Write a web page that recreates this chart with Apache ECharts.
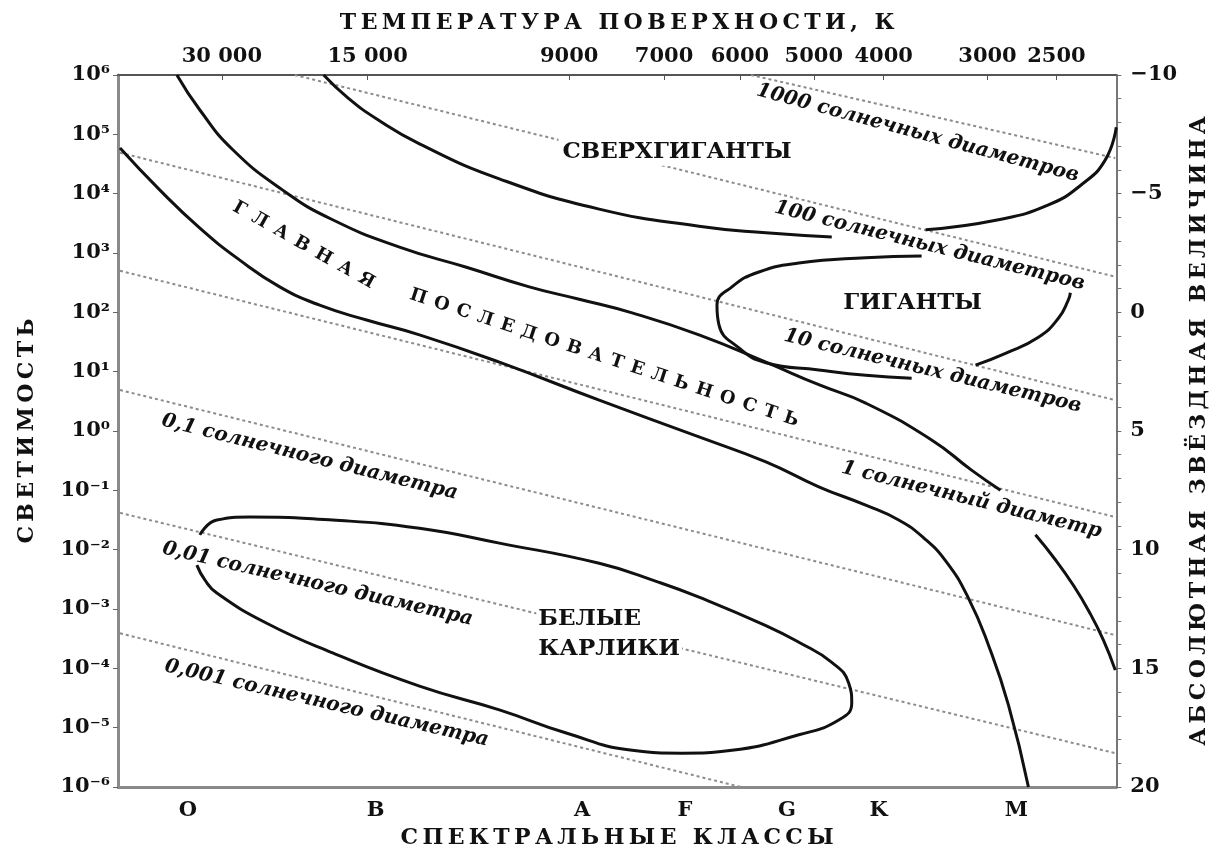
<!DOCTYPE html>
<html>
<head>
<meta charset="utf-8">
<script src="https://cdn.jsdelivr.net/npm/echarts@6/dist/echarts.min.js"></script>
<style>
  html, body { margin: 0; background: #fff; }
  #chart { width: 1218px; height: 855px; }
</style>
</head>
<body>
<div id="chart"></div>
<script>
// horizontal scale: 0..1000 across the plot; vertical: lg(L / L_sun)
const spectralPos = [70, 258, 465, 568, 670, 762, 900];
const spectralClasses = ['O', 'B', 'A', 'F', 'G', 'K', 'M'];
const tempPos = [104, 250, 452, 547, 623, 697, 767, 871, 940];
const tempLabels = ['30 000', '15 000', '9000', '7000', '6000', '5000', '4000', '3000', '2500'];

// главная последовательность — верхняя и нижняя границы
const msUpper = [[59, 6.0], [82, 5.41], [115, 4.74], [165, 4.06], [215, 3.56], [282, 3.10], [349, 2.76],
  [412, 2.43], [462, 2.22], [515, 1.99], [582, 1.62], [649, 1.16], [702, 0.78], [749, 0.47],
  [815, -0.15], [855, -0.66], [884, -1.00]];
const msLower = [[2, 4.77], [42, 4.06], [82, 3.42], [122, 2.88], [162, 2.43], [202, 2.12], [249, 1.87],
  [302, 1.62], [382, 1.16], [482, 0.52], [582, -0.10], [649, -0.52], [702, -0.94], [749, -1.25],
  [782, -1.50], [807, -1.80], [830, -2.21], [852, -2.82], [872, -3.61], [892, -4.62], [912, -6.0]];
const dwarfTail = [[919, -1.75], [939, -2.17], [957, -2.60], [972, -3.02], [987, -3.52], [999, -4.03]];

// сверхгиганты
const superLeft = [[206, 6.0], [230, 5.62], [260, 5.25], [302, 4.84], [382, 4.25], [482, 3.74],
  [582, 3.45], [649, 3.34], [715, 3.27]];
const superRight = [[809, 3.39], [882, 3.56], [932, 3.81], [965, 4.15], [989, 4.57], [1000, 5.12]];

// гиганты
const giantsLoop = [[805, 2.95], [749, 2.92], [682, 2.83], [642, 2.68], [615, 2.43], [600, 2.12],
  [602, 1.79], [622, 1.40], [649, 1.15], [702, 1.03], [749, 0.94], [795, 0.89]];
const giantsArc = [[859, 1.11], [889, 1.31], [922, 1.58], [942, 1.90], [952, 2.21], [954, 2.33]];

// белые карлики
const whiteDwarfs = [[82, -1.75], [99, -1.50], [132, -1.45], [215, -1.50], [302, -1.64], [382, -1.89],
  [482, -2.23], [542, -2.55], [582, -2.80], [649, -3.28], [682, -3.56], [715, -3.90], [732, -4.25],
  [735, -4.59], [722, -4.87], [682, -5.12], [615, -5.38], [565, -5.43], [515, -5.38], [449, -5.09],
  [382, -4.70], [302, -4.30], [215, -3.74], [149, -3.24], [99, -2.73], [87, -2.51], [79, -2.26]];

// линии постоянного радиуса
const r1000 = [[634, 6.0], [999, 4.60]];
const r100 = [[177, 6.0], [999, 2.60]];
const r10 = [[2, 4.69], [999, 0.52]];
const r1 = [[2, 2.70], [999, -1.45]];
const r01 = [[2, 0.69], [999, -3.44]];
const r001 = [[2, -1.38], [999, -5.43]];
const r0001 = [[2, -3.41], [624, -6.0]];

const serif = 'DejaVu Serif';
const ink = '#111';
const spaced = (s, sep) => Array.from(s).join(sep);
const supMap = {'-': '⁻', '0': '⁰', '1': '¹', '2': '²', '3': '³', '4': '⁴', '5': '⁵', '6': '⁶', '7': '⁷', '8': '⁸', '9': '⁹'};
const sup = n => String(n).split('').map(c => supMap[c]).join('');
const pick = (pos, labels) => v => {
  const i = pos.findIndex(p => Math.abs(p - v) < 0.5);
  return i < 0 ? '' : labels[i];
};

const curve = pts => ({
  type: 'line', data: pts, smooth: 0.5, symbol: 'none', silent: true, z: 3,
  lineStyle: { color: '#111', width: 3 }
});
const radius = pts => ({
  type: 'line', data: pts, symbol: 'none', silent: true, z: 2,
  lineStyle: { color: '#8c8c8c', width: 2, type: [3, 3] }
});

// подписи
const base = { fontFamily: serif, fontWeight: 'bold', color: ink, opacity: 1, textBorderWidth: 0, textBorderColor: 'transparent' };
const italicNote = Object.assign({ fontStyle: 'italic', fontSize: 20 }, base);
const bigNote = Object.assign({ fontSize: 23 }, base);
const seqNote = Object.assign({ fontSize: 18 }, base);
const notes = [
  { text: '1000 солнечных диаметров', at: [801, 5.02], rotate: -15, style: italicNote },
  { text: '100 солнечных диаметров', at: [813, 3.12], rotate: -14, style: italicNote },
  { text: '10 солнечных диаметров', at: [816, 1.01], rotate: -13.5, style: italicNote },
  { text: '1 солнечный диаметр', at: [855, -1.16], rotate: -14, style: italicNote },
  { text: '0,1 солнечного диаметра', at: [192, -0.44], rotate: -14, style: italicNote },
  { text: '0,01 солнечного диаметра', at: [200, -2.58], rotate: -13, style: italicNote },
  { text: '0,001 солнечного диаметра', at: [209, -4.59], rotate: -13, style: italicNote },
  { text: 'СВЕРХГИГАНТЫ', at: [560, 4.70], rotate: 0, style: Object.assign({ backgroundColor: '#fff', padding: [2, 4] }, bigNote) },
  { text: 'ГИГАНТЫ', at: [796, 2.16], rotate: 0, style: bigNote },
  { text: 'БЕЛЫЕ\nКАРЛИКИ', at: [419, -3.42], rotate: 0, position: 'right',
    style: Object.assign({ backgroundColor: '#fff', lineHeight: 30, align: 'left', padding: [0, 2] }, bigNote) },
  { text: spaced('ГЛАВНАЯ', '\u2002'), at: [186, 3.13], rotate: -29.5, style: seqNote },
  { text: spaced('ПОСЛЕДОВАТЕЛЬНОСТЬ', ' \u200A'), at: [487, 1.23], rotate: -18.2, style: seqNote }
];

const titleStyle = { fontFamily: serif, fontWeight: 'bold', fontSize: 22, color: ink };
const tickStyle = { fontFamily: serif, fontWeight: 'bold', fontSize: 21, color: ink };

const chart = echarts.init(document.getElementById('chart'));
chart.setOption({
  animation: false,
  backgroundColor: '#fff',
  grid: { left: 118, right: 101, top: 75, bottom: 68 },
  xAxis: [{
    type: 'value', position: 'bottom', min: 0, max: 1000,
    axisLine: { show: true, onZero: false, lineStyle: { color: '#8a8a8a', width: 3 } },
    axisTick: { show: false },
    splitLine: { show: false },
    axisLabel: Object.assign({ customValues: spectralPos, formatter: pick(spectralPos, spectralClasses), margin: 13 }, tickStyle),
    name: spaced('СПЕКТРАЛЬНЫЕ КЛАССЫ', '\u2009'),
    nameLocation: 'middle', nameGap: 40, nameTextStyle: titleStyle
  }, {
    type: 'value', position: 'top', min: 0, max: 1000,
    axisLine: { show: true, onZero: false, lineStyle: { color: '#555', width: 2 } },
    axisTick: { show: true, customValues: tempPos, inside: true, length: 5, lineStyle: { color: '#555' } },
    splitLine: { show: false },
    axisLabel: Object.assign({ customValues: tempPos, formatter: pick(tempPos, tempLabels), margin: 8 }, tickStyle),
    name: spaced('ТЕМПЕРАТУРА ПОВЕРХНОСТИ, К', '\u2009'),
    nameLocation: 'middle', nameGap: 41, nameTextStyle: titleStyle
  }],
  yAxis: [{
    type: 'value', position: 'left', min: -6, max: 6, interval: 1,
    axisLine: { show: true, onZero: false, lineStyle: { color: '#8a8a8a', width: 3 } },
    axisTick: { show: true, length: 5, lineStyle: { color: '#666' } },
    splitLine: { show: false },
    axisLabel: Object.assign({ formatter: v => '10' + sup(v), margin: 8 }, tickStyle),
    name: spaced('СВЕТИМОСТЬ', '\u2009'),
    nameLocation: 'middle', nameRotate: 90, nameGap: 80, nameTextStyle: titleStyle
  }, {
    type: 'value', position: 'right', min: -10, max: 20, interval: 5, inverse: true,
    axisLine: { show: true, onZero: false, lineStyle: { color: '#777', width: 2 } },
    axisTick: { show: true, length: 5, lineStyle: { color: '#666' } },
    minorTick: { show: true, splitNumber: 5, length: 5, lineStyle: { color: '#777' } },
    splitLine: { show: false },
    axisLabel: Object.assign({ formatter: v => (v < 0 ? '\u2212' + (-v) : String(v)), margin: 14 }, tickStyle),
    name: spaced('АБСОЛЮТНАЯ ЗВЁЗДНАЯ ВЕЛИЧИНА', '\u2009'),
    nameLocation: 'middle', nameRotate: 90, nameGap: 64, nameTextStyle: titleStyle
  }],
  series: [
    radius(r1000), radius(r100), radius(r10), radius(r1), radius(r01), radius(r001), radius(r0001),
    curve(msUpper), curve(msLower), curve(dwarfTail),
    curve(superLeft), curve(superRight),
    curve(giantsLoop), curve(giantsArc),
    curve(whiteDwarfs),
    {
      type: 'scatter', symbolSize: 0, silent: true, z: 6,
      itemStyle: { color: ink, opacity: 1 },
      data: notes.map(n => ({
        value: n.at,
        label: Object.assign({ show: true, formatter: n.text, position: n.position || 'inside', distance: 0, rotate: n.rotate }, n.style)
      }))
    }
  ]
});
</script>
</body>
</html>
